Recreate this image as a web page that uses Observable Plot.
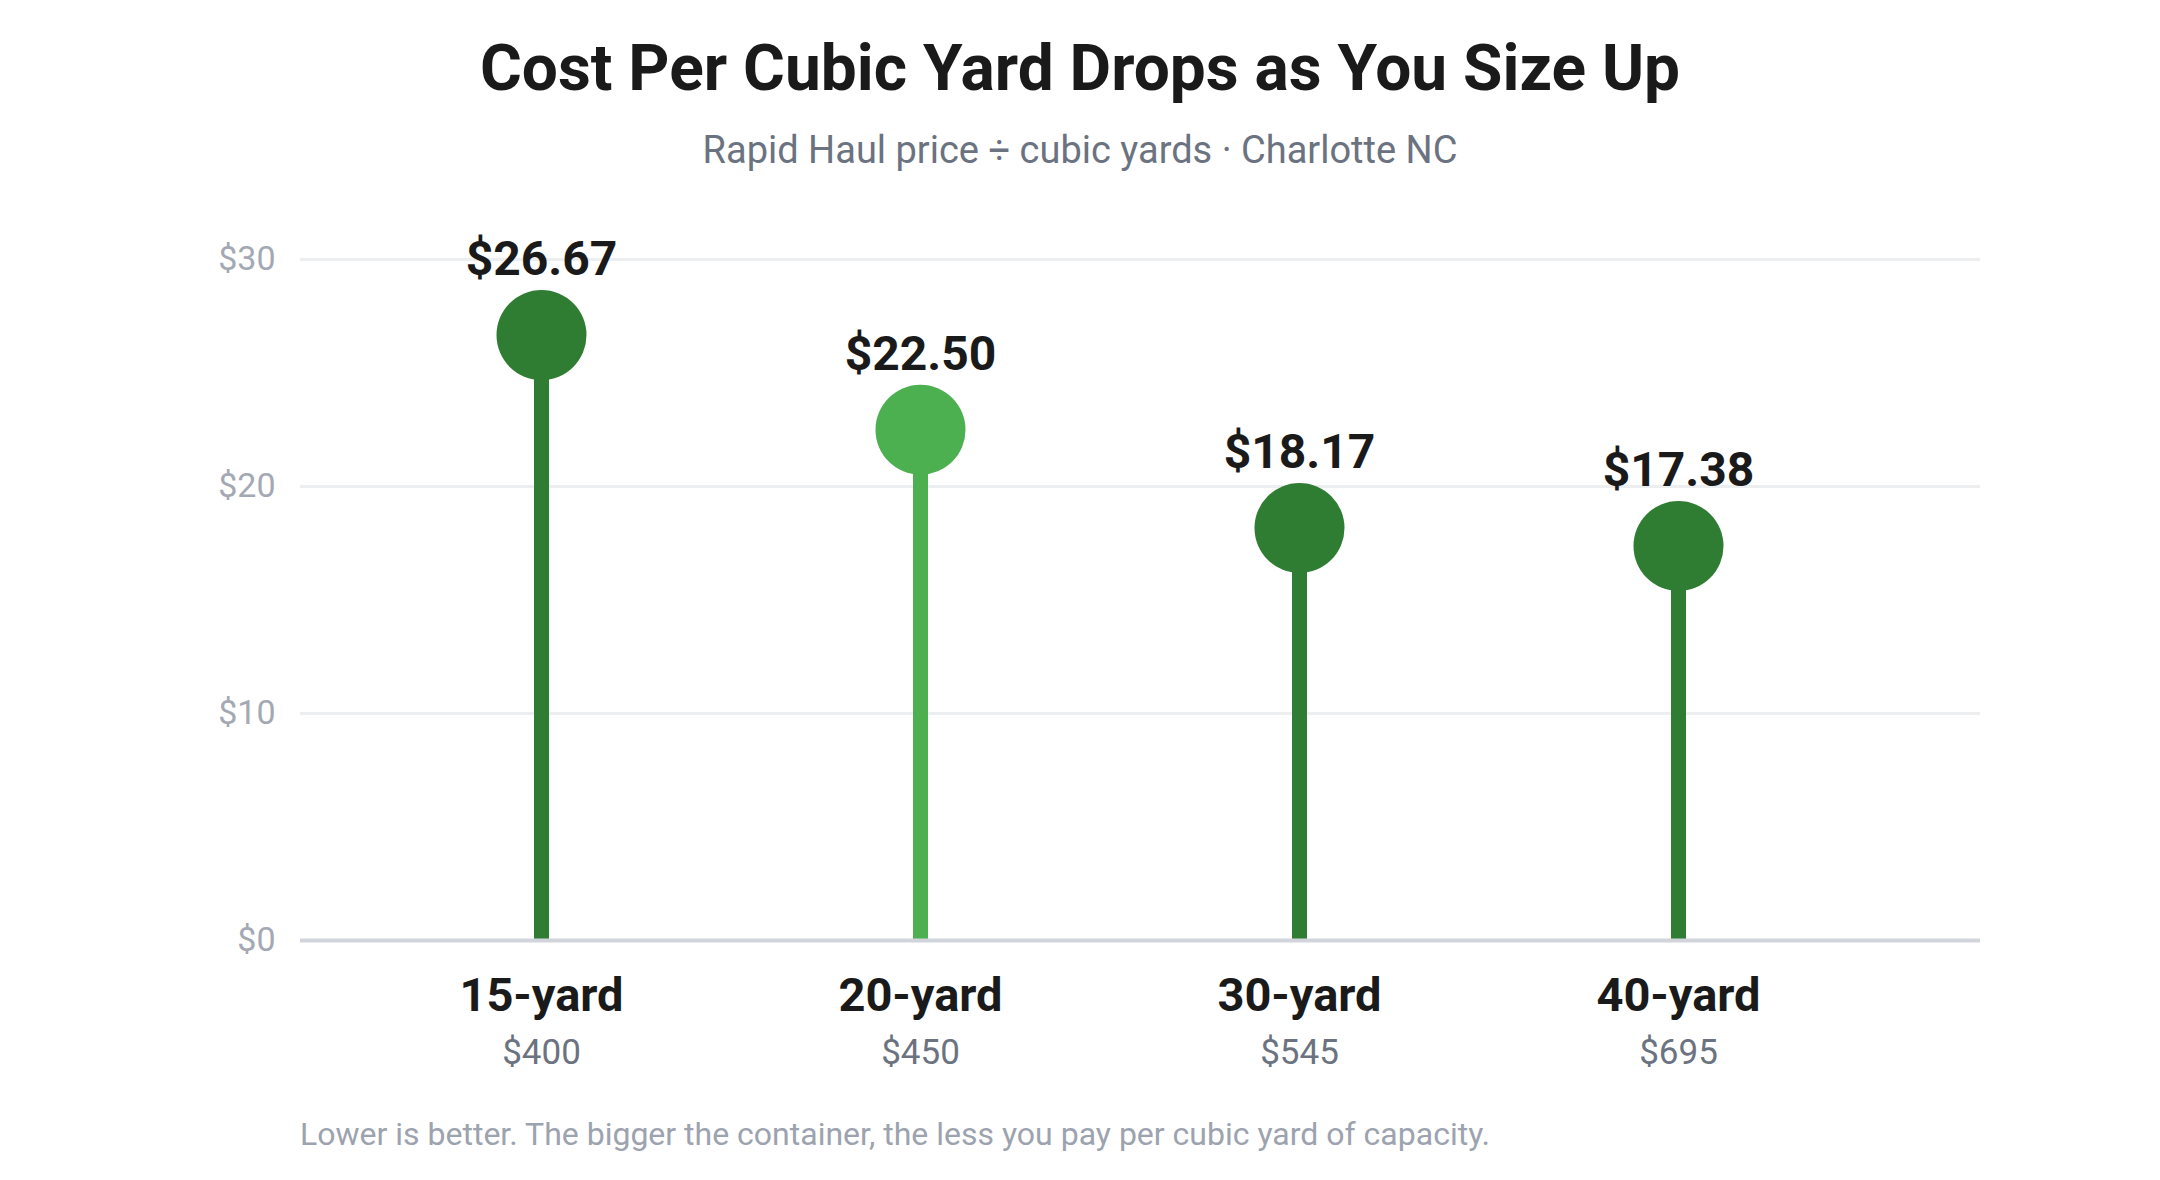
<!DOCTYPE html>
<html>
<head>
<meta charset="utf-8">
<script src="https://cdn.jsdelivr.net/npm/d3@7"></script>
<script src="https://cdn.jsdelivr.net/npm/@observablehq/plot@0.6"></script>
<style>
  html, body { margin: 0; padding: 0; background: #ffffff; }
  body { width: 2160px; height: 1180px; font-family: Roboto, "Noto Sans", sans-serif; position: relative; overflow: hidden; }
  #title { position: absolute; top: 29px; left: 0; width: 2160px; text-align: center; font-size: 64px; font-weight: 700; color: #1a1a1a; line-height: 80px; }
  #subtitle { position: absolute; top: 128px; left: 0; width: 2160px; text-align: center; font-size: 38px; color: #6b7280; line-height: 44px; }
  #chart { position: absolute; top: 190px; left: 0; }
  #note { position: absolute; top: 1113px; left: 300px; font-size: 32px; color: #9ca3af; line-height: 42px; }
</style>
</head>
<body>
<div id="title">Cost Per Cubic Yard Drops as You Size Up</div>
<div id="subtitle">Rapid Haul price ÷ cubic yards · Charlotte NC</div>
<div id="chart"></div>
<div id="note">Lower is better. The bigger the container, the less you pay per cubic yard of capacity.</div>
<script>
// Dumpster sizes, their flat prices, and the resulting cost per cubic yard
const sizes = ["15-yard", "20-yard", "30-yard", "40-yard"];
const prices = [400, 450, 545, 695];
const costPerYard = [26.67, 22.50, 18.17, 17.38];
const yTicks = [0, 10, 20, 30];
const featured = "20-yard";

const rows = sizes.map((size, i) => ({ size, price: prices[i], cost: costPerYard[i] }));

const dark = "#2e7d32";
const light = "#4caf50";
const colorOf = d => d.size === featured ? light : dark;

const chart = Plot.plot({
  width: 2160,
  height: 900,
  marginTop: 69,
  marginBottom: 150,
  marginLeft: 300,
  marginRight: 180,
  style: { fontFamily: "Roboto, 'Noto Sans', sans-serif", fontSize: "32px", background: "#ffffff" },
  x: { type: "point", domain: sizes, range: [540, 1679], padding: 0, axis: null },
  y: { domain: [0, 30], axis: null },
  marks: [
    // horizontal gridlines
    Plot.ruleY(yTicks.filter(t => t > 0), { stroke: "#eceef0", strokeWidth: 3 }),
    // y tick labels, right-aligned just left of the plot area
    Plot.text(yTicks, {
      y: d => d, text: d => `$${d}`,
      frameAnchor: "left", textAnchor: "end", dx: -25,
      fill: "#a3a8b3", fontSize: 34
    }),
    // stems
    Plot.ruleX(rows, { x: "size", y1: 0, y2: "cost", stroke: colorOf, strokeWidth: 15 }),
    // baseline
    Plot.ruleY([0], { stroke: "#d1d5db", strokeWidth: 4 }),
    // heads
    Plot.dot(rows, { x: "size", y: "cost", r: 45, fill: colorOf, stroke: "none" }),
    // value labels
    Plot.text(rows, {
      x: "size", y: "cost", text: d => `$${d.cost.toFixed(2)}`,
      lineAnchor: "middle", dy: -75, fontSize: 48, fontWeight: 700, fill: "#1a1a1a"
    }),
    // size names under the baseline
    Plot.text(rows, {
      x: "size", y: () => 0, text: "size",
      lineAnchor: "middle", dy: 55, fontSize: 47, fontWeight: 700, fill: "#1a1a1a"
    }),
    // flat prices
    Plot.text(rows, {
      x: "size", y: () => 0, text: d => `$${d.price}`,
      lineAnchor: "middle", dy: 112, fontSize: 35, fill: "#6b7280"
    })
  ]
});

document.getElementById("chart").appendChild(chart);
</script>
</body>
</html>
